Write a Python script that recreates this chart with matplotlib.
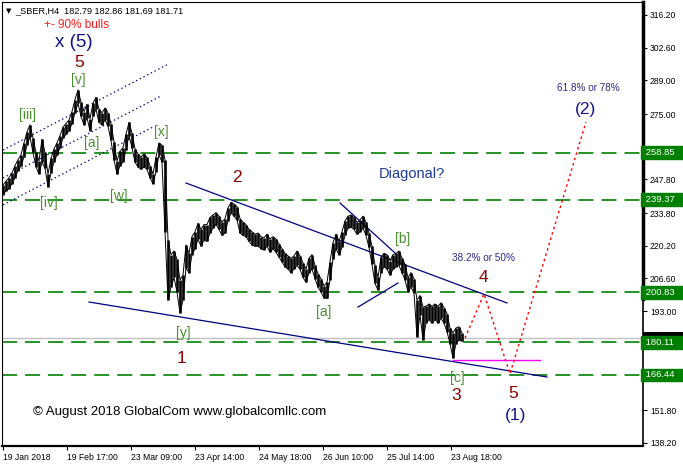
import matplotlib
matplotlib.use("Agg")
import matplotlib.pyplot as plt
import matplotlib.transforms as mtransforms
from matplotlib.patches import Rectangle
import numpy as np

# ============================================================
# Data (H4 bars, one entry every 3 bars; bar index -> low/high)
# ============================================================

BAR_START = 3
BAR_STEP = 3

LOWS = [
    241.5, 243.0, 244.0, 246.0, 248.5, 251.5, 253.5, 257.0, 262.0, 265.5,
    259.0, 253.0, 250.0, 255.0, 252.5, 244.7, 250.5, 255.0, 258.0, 261.0,
    265.0, 266.5, 268.0, 271.0, 275.5, 279.5, 274.0, 270.5, 273.5, 268.0,
    274.0, 277.0, 271.5, 270.5, 272.5, 270.0, 264.0, 256.0, 250.0, 253.5,
    255.0, 260.0, 266.0, 261.0, 255.0, 253.0, 252.0, 253.0, 252.0, 248.5,
    246.0, 251.0, 258.0, 255.0, 226.0, 197.6, 203.0, 207.0, 201.0, 192.2,
    197.6, 211.0, 209.0, 216.5, 219.0, 223.0, 220.0, 222.5, 222.0, 225.5,
    227.5, 229.0, 227.0, 224.5, 225.5, 230.5, 234.0, 232.5, 231.0, 225.5,
    224.5, 224.0, 222.0, 220.5, 220.0, 220.0, 219.0, 218.5, 220.0, 217.5,
    219.0, 217.5, 215.5, 213.5, 211.5, 210.5, 209.0, 210.5, 212.0, 210.5,
    207.0, 205.0, 209.0, 210.5, 206.5, 203.0, 201.0, 198.5, 198.3, 206.0,
    214.5, 219.0, 216.5, 219.5, 224.5, 227.5, 228.0, 227.0, 225.0, 226.0,
    227.5, 224.5, 219.5, 212.5, 204.5, 201.8, 209.0, 211.5, 210.5, 208.0,
    210.5, 211.5, 212.0, 209.0, 206.0, 201.0, 203.0, 200.5, 182.3, 191.5,
    181.0, 188.0, 189.5, 188.0, 189.5, 188.0, 190.0, 188.0, 184.5, 179.5,
    173.5, 179.5, 181.0, 180.5,
]

HIGHS = [
    245.5, 247.0, 248.5, 250.5, 253.5, 256.0, 258.0, 263.0, 267.5, 270.5,
    265.0, 259.0, 255.5, 264.5, 259.0, 250.0, 256.5, 260.5, 263.0, 266.0,
    269.5, 271.0, 272.5, 276.0, 281.0, 285.0, 280.0, 276.0, 279.0, 273.0,
    279.5, 282.0, 277.0, 275.5, 277.5, 275.5, 271.0, 263.5, 255.5, 259.5,
    261.0, 266.5, 271.5, 267.0, 260.5, 258.5, 257.0, 258.5, 257.0, 253.5,
    250.0, 257.0, 263.0, 262.0, 256.0, 222.6, 216.5, 218.0, 214.5, 206.0,
    208.0, 220.5, 217.0, 224.0, 226.0, 229.5, 227.0, 229.0, 229.0, 232.0,
    233.0, 234.0, 232.5, 230.0, 231.5, 236.0, 238.2, 237.5, 236.5, 231.5,
    230.0, 229.0, 227.0, 226.0, 225.0, 225.5, 224.0, 223.5, 225.0, 223.0,
    224.0, 223.0, 221.0, 219.0, 217.0, 216.0, 215.0, 216.0, 218.0, 216.0,
    213.0, 210.5, 215.0, 216.5, 212.0, 208.5, 206.5, 203.5, 205.0, 213.5,
    221.5, 225.0, 222.0, 226.0, 230.5, 232.5, 233.0, 232.0, 230.0, 231.0,
    232.5, 230.0, 225.5, 220.0, 212.0, 207.0, 215.5, 217.0, 216.5, 214.0,
    216.5, 217.0, 218.0, 215.0, 212.5, 207.0, 209.0, 206.5, 197.6, 199.5,
    194.7, 195.0, 196.0, 195.0, 196.0, 195.0, 196.5, 194.5, 192.0, 186.0,
    184.0, 186.0, 186.5, 184.0,
]

LAST_PRICE = 181.71
LEVELS = [258.85, 239.37, 200.83, 180.11, 166.44]

Y_TICKS = [316.20, 302.60, 289.00, 275.00, 261.40, 247.80, 233.80, 220.20,
           206.60, 193.00, 179.40, 165.80, 151.80, 138.20]
Y_LABELS = ["316.20", "302.60", "289.00", "275.00", "", "247.80",
            "233.80", "220.20", "206.60", "193.00", "", "", "151.80", "138.20"]

DATE_POS = [3, 67, 131, 195, 259, 323, 387, 451]
DATE_LABELS = ["19 Jan 2018", "19 Feb 17:00", "23 Mar 09:00", "23 Apr 14:00",
               "24 May 18:00", "26 Jun 10:00", "25 Jul 14:00", "23 Aug 18:00"]

# wave drawing (bar, price)
CHANNEL = [((3, 260.0), (167, 295.5)),
           ((3, 248.4), (160, 282.3)),
           ((3, 237.2), (153, 269.6))]
TRENDLINES = [((186, 246.3), (507, 196.4)),
              ((89, 196.8), (547, 165.6)),
              ((340, 238.0), (395, 217.2)),
              ((358, 194.7), (398, 204.7))]
TARGET_BARS = [465, 484, 510, 586]
TARGET_PRICES = [181.8, 200.2, 166.9, 271.7]
MAGENTA = ((453, 540), 172.7)

# ============================================================
# Figure
# ============================================================

plt.rcParams['font.family'] = ['Liberation Sans', 'DejaVu Sans']
plt.rcParams['lines.scale_dashes'] = False

W, H = 683, 467
fig = plt.figure(figsize=(W / 100, H / 100), dpi=100)
ax = fig.add_axes([2 / W, 21 / H, 641 / W, 444 / H])
ax.set_xlim(2, 643)
ax.set_ylim(136.9, 321.6)

# horizontal levels
ax.axhline(LAST_PRICE, color='#c0c0c0', lw=1.0, zorder=1)
for lv in LEVELS:
    ax.axhline(lv, color='#008000', lw=1.2, dashes=(10.8, 5.8), zorder=2)

# price bars (thin, close together like the H4 chart)
bars = BAR_START + BAR_STEP * np.arange(len(LOWS))
ax.vlines(bars, LOWS, HIGHS, color='black', lw=1.9, zorder=4)
ax.plot(bars, LOWS, color='black', lw=0.7, zorder=4)
ax.plot(bars, HIGHS, color='black', lw=0.7, zorder=4)

# channel (dotted)
for (x0, y0), (x1, y1) in CHANNEL:
    ax.plot([x0, x1], [y0, y1], color='#000080', lw=0.9,
            dashes=(1.0, 2.0), zorder=3)

# trend lines
for (x0, y0), (x1, y1) in TRENDLINES:
    ax.plot([x0, x1], [y0, y1], color='#000080', lw=0.9, zorder=3)

ax.plot(MAGENTA[0], [MAGENTA[1]] * 2, color='#ff00ff', lw=1.0, zorder=3)
ax.plot(TARGET_BARS, TARGET_PRICES, color='#ff0000', lw=1.0,
        dashes=(1.8, 2.2), zorder=3)

# ============================================================
# Labels
# ============================================================

MAROON = '#8b0000'
NAVY = '#14148c'
BRACKET = '#4b8f2f'

def put(x, y, s, color, size, ha='center'):
    ax.text(x, y, s, color=color, fontsize=size, ha=ha, va='center',
            zorder=6)

put(44, 312.0, "+- 90% bulls", '#ff1a1a', 8.5, ha='left')
put(74, 304.6, "x (5)", NAVY, 13.5)
put(79, 296.6, "5", MAROON, 12.5)
for x, y, s in [(78, 289.2, "[v]"), (27, 274.6, "[iii]"), (49, 238.0, "[iv]"),
                (92, 262.9, "[a]"), (119, 240.9, "[w]"), (161, 267.5, "[x]"),
                (183, 183.9, "[y]"), (324, 192.7, "[a]"), (403, 223.0, "[b]"),
                (457, 165.2, "[c]")]:
    put(x, y, s, BRACKET, 10)
for x, y, s in [(237, 248.8, "2"), (182, 173.5, "1"), (456, 157.7, "3"),
                (483, 207.2, "4"), (513, 158.9, "5")]:
    put(x, y, s, MAROON, 12.5)
put(516, 149.4, "(1)", NAVY, 12.5)
put(586, 276.7, "(2)", NAVY, 12.5)
put(379, 250.1, "Diagonal?", '#1e3a99', 10.5, ha='left')
put(484, 215.1, "38.2% or 50%", '#2a2a8a', 7.2)
put(588, 285.8, "61.8% or 78%", '#2a2a8a', 7.2)
put(33, 151.1, "\u00a9 August 2018 GlobalCom www.globalcomllc.com", 'black',
    9.5, ha='left')

fig.text(6 / W, 1 - 11 / H, "\u25bc", fontsize=5, family='DejaVu Sans',
         ha='left', va='center')
fig.text(15 / W, 1 - 11 / H, "_SBER,H4  182.79 182.86 181.69 181.71",
         fontsize=6.6, ha='left', va='center')

# ============================================================
# Axes styling
# ============================================================

for side in ['left', 'top']:
    ax.spines[side].set_linewidth(0.8)
ax.spines['right'].set_linewidth(1.2)
ax.spines['bottom'].set_linewidth(1.6)
ax.plot([1, 1], [0.33, 1], transform=ax.transAxes, color='black', lw=2.5,
        clip_on=False, zorder=7)

ax.yaxis.tick_right()
ax.set_yticks(Y_TICKS)
ax.set_yticklabels(Y_LABELS)
ax.tick_params(axis='y', direction='out', length=3, width=0.8, pad=2,
               labelsize=6.2)
ax.set_xticks(DATE_POS)
ax.set_xticklabels(DATE_LABELS, ha='left')
ax.tick_params(axis='x', direction='out', length=3, width=0.8, pad=2,
               labelsize=6.2)

# price boxes on the right scale
trans = mtransforms.blended_transform_factory(ax.transAxes, ax.transData)
ax.add_patch(Rectangle((1.0, LAST_PRICE - 2.6), 0.07, 5.2, transform=trans,
                       fc='black', ec='none', clip_on=False, zorder=8))
for lv in LEVELS:
    ax.text(1.0, lv, f" {lv:.2f}   ", transform=trans, fontsize=6.8,
            color='white', ha='left', va='center', zorder=9, clip_on=False,
            bbox=dict(boxstyle='square,pad=0.2', fc='#008000', ec='#008000'))

plt.savefig("out.png", dpi=100)
